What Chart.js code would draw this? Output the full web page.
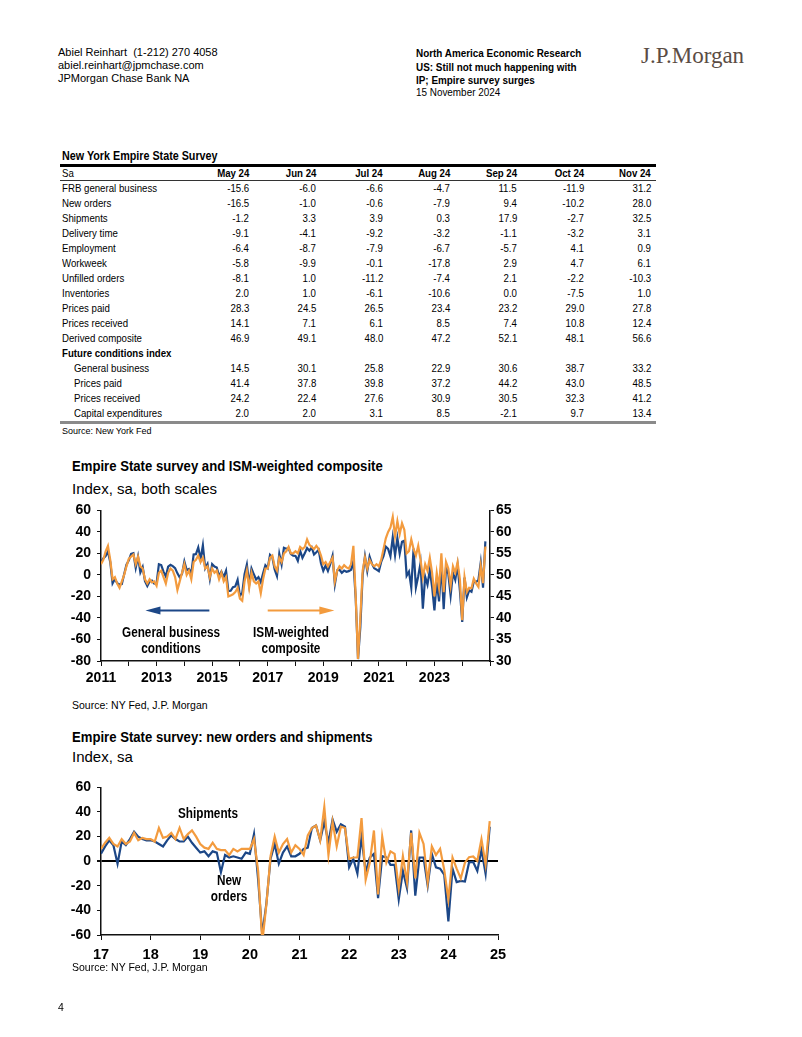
<!DOCTYPE html>
<html><head><meta charset="utf-8">
<script src="https://cdn.jsdelivr.net/npm/chart.js@4.4.1/dist/chart.umd.min.js"></script>
<style>
html,body{margin:0;padding:0;background:#fff;}
body{width:802px;height:1037px;position:relative;overflow:hidden;font-family:"Liberation Sans",Arial,sans-serif;color:#000;}
.abs{position:absolute;white-space:nowrap;}
.sx{display:inline-block;transform-origin:left center;}
.sr{display:inline-block;transform-origin:right center;}
#tbl{position:absolute;left:60px;top:164px;width:596px;border-collapse:collapse;font-size:11.5px;table-layout:fixed;}
#tbl td{padding:0;height:15px;line-height:15px;text-align:right;padding-right:5px;white-space:nowrap;overflow:visible;}
#tbl td span{transform:scaleX(0.84);}
#tbl td.lbl{text-align:left;padding-left:2px;padding-right:0;}
#tbl td.ind{padding-left:14px;}
#tbl tr.hdr td{height:13px;line-height:13px;border-top:3px solid #000;border-bottom:1px solid #333;}
#tbl tr.hdr td.m{font-weight:bold;}
#tbl tr.last td{border-bottom:3px solid #8a8a8a;}
canvas{position:absolute;}
.ann{position:absolute;font-weight:bold;font-size:14px;line-height:16px;text-align:center;white-space:nowrap;transform:translateX(-50%) scaleX(0.84);}
</style>
</head>
<body>
<div class="abs" style="left:58px;top:46px;font-size:11px;line-height:13px;">Abiel Reinhart&nbsp; (1-212) 270 4058<br>abiel.reinhart@jpmchase.com<br>JPMorgan Chase Bank NA</div>
<div class="abs" style="left:416px;top:47px;font-size:11px;line-height:13px;font-weight:bold;"><span class="sx" style="transform:scaleX(0.9)">North America Economic Research</span></div>
<div class="abs" style="left:416px;top:61px;font-size:11px;line-height:12.5px;font-weight:bold;"><span class="sx" style="transform:scaleX(0.9)">US: Still not much happening with<br>IP; Empire survey surges</span></div>
<div class="abs" style="left:416px;top:86px;font-size:11px;line-height:12.5px;"><span class="sx" style="transform:scaleX(0.9)">15 November 2024</span></div>
<div class="abs" style="left:641px;top:42px;font-size:23px;line-height:28px;font-family:'Liberation Serif','DejaVu Serif',serif;color:#5b4c44;">J.P.Morgan</div>

<div class="abs" style="left:62px;top:149px;font-size:12.5px;line-height:14px;font-weight:bold;"><span class="sx" style="transform:scaleX(0.86)">New York Empire State Survey</span></div>
<table id="tbl"></table>
<div class="abs" style="left:62px;top:426px;font-size:9px;line-height:10px;">Source: New York Fed</div>

<div class="abs" style="left:72px;top:457px;font-size:15px;line-height:18px;font-weight:bold;"><span class="sx" style="transform:scaleX(0.875)">Empire State survey and ISM-weighted composite</span></div>
<div class="abs" style="left:72px;top:480px;font-size:15px;line-height:18px;">Index, sa, both scales</div>
<canvas id="c1" width="500" height="200" style="left:40px;top:496px;"></canvas>
<div class="ann" style="left:171px;top:624px;">General business<br>conditions</div>
<div class="ann" style="left:291px;top:624px;">ISM-weighted<br>composite</div>
<div class="abs" style="left:72px;top:699px;font-size:10.5px;line-height:13px;">Source: NY Fed, J.P. Morgan</div>

<div class="abs" style="left:72px;top:728px;font-size:15px;line-height:18px;font-weight:bold;"><span class="sx" style="transform:scaleX(0.875)">Empire State survey: new orders and shipments</span></div>
<div class="abs" style="left:72px;top:748px;font-size:15px;line-height:18px;">Index, sa</div>
<canvas id="c2" width="480" height="195" style="left:40px;top:773px;"></canvas>
<div class="ann" style="left:208px;top:805px;">Shipments</div>
<div class="ann" style="left:229px;top:872px;">New<br>orders</div>
<div class="abs" style="left:72px;top:961px;font-size:10.5px;line-height:13px;">Source: NY Fed, J.P. Morgan</div>
<div class="abs" style="left:58px;top:1001px;font-size:10.5px;line-height:13px;">4</div>

<script>
// ---------- Table data ----------
const tableMonths = ['May 24','Jun 24','Jul 24','Aug 24','Sep 24','Oct 24','Nov 24'];
const rowFRB = [-15.6,-6.0,-6.6,-4.7,11.5,-11.9,31.2];
const rowNewOrders = [-16.5,-1.0,-0.6,-7.9,9.4,-10.2,28.0];
const rowShipments = [-1.2,3.3,3.9,0.3,17.9,-2.7,32.5];
const rowDelivery = [-9.1,-4.1,-9.2,-3.2,-1.1,-3.2,3.1];
const rowEmployment = [-6.4,-8.7,-7.9,-6.7,-5.7,4.1,0.9];
const rowWorkweek = [-5.8,-9.9,-0.1,-17.8,2.9,4.7,6.1];
const rowUnfilled = [-8.1,1.0,-11.2,-7.4,2.1,-2.2,-10.3];
const rowInventories = [2.0,1.0,-6.1,-10.6,0.0,-7.5,1.0];
const rowPricesPaid = [28.3,24.5,26.5,23.4,23.2,29.0,27.8];
const rowPricesRecv = [14.1,7.1,6.1,8.5,7.4,10.8,12.4];
const rowDerived = [46.9,49.1,48.0,47.2,52.1,48.1,56.6];
const rowFutGeneral = [14.5,30.1,25.8,22.9,30.6,38.7,33.2];
const rowFutPaid = [41.4,37.8,39.8,37.2,44.2,43.0,48.5];
const rowFutRecv = [24.2,22.4,27.6,30.9,30.5,32.3,41.2];
const rowFutCapex = [2.0,2.0,3.1,8.5,-2.1,9.7,13.4];

// ---------- Chart 1: monthly, Jan 2011 - Nov 2024 ----------
const chart1StartYear = 2011;
const generalBusiness = [
 11.9,15.4,17.5,21.7,11.9,-7.8,-3.8,-7.7,-8.8,-8.5,0.6,9.5,
 13.5,19.5,20.2,6.6,17.1,2.3,7.4,-5.9,-10.4,-6.2,-5.2,-8.1,
 -7.8,10.0,9.2,3.1,-1.4,7.8,9.5,8.2,6.3,1.5,-2.2,1.0,
 12.5,4.5,5.6,1.3,19.0,19.3,25.6,14.7,27.5,6.2,10.2,-3.6,
 10.0,7.8,6.9,-1.2,3.1,-2.0,3.9,-14.9,-14.7,-11.4,-10.7,-4.6,
 -19.4,-16.6,0.6,9.6,-9.0,6.0,0.6,-4.2,-2.0,-6.8,1.5,9.0,
 6.5,18.7,16.4,5.2,-1.0,19.8,9.8,25.2,24.4,25.0,19.4,18.0,
 17.7,13.1,22.5,15.8,20.1,25.0,22.6,25.6,19.0,21.1,23.3,10.9,
 3.9,8.8,3.7,10.1,17.8,-8.6,4.3,4.8,2.0,4.0,2.9,3.5,
 4.8,12.9,-21.5,-78.2,-48.5,-0.2,17.2,3.7,17.0,10.5,6.3,4.9,
 3.5,12.1,17.4,26.3,24.3,17.4,35.0,18.3,34.3,19.8,30.9,31.9,
 -0.7,3.1,-11.8,24.6,-11.6,-1.2,11.1,-31.3,-1.5,-9.1,4.5,-11.2,
 -32.9,-5.8,-24.6,10.8,-31.8,6.6,1.1,-19.0,1.9,-4.6,9.1,-14.5,
 -43.7,-2.4,-20.9,-14.3,-15.6,-6.0,-6.6,-4.7,11.5,-11.9,31.2
];
const ismComposite = [
 52.5,53.5,55.5,56.75,53.5,49,49.5,48,47,48.5,50,52,
 53.75,54.25,54.75,52.5,54.25,52,51.5,49,48,49,48.25,48.5,
 47.5,50.5,51,49.5,48,50.5,51.5,51,49.5,46.5,48.5,50.5,
 52.5,50,51,49,53,53.5,54.5,53,54,51.5,52,49.5,
 51.5,50.5,51,49,50.5,48.5,49.5,45,45.25,45.5,46,47,
 44.5,44,48.5,51,47,50.5,48.5,48,48.5,45.75,49,51.5,
 51.5,54,54.5,52,51,54,53,55,55.5,56.5,55,55,
 55.5,55,56.5,56,56.5,58.25,57,56.5,56,56.75,56,54.5,
 52.5,53,52,53,54,48.5,51,52,51.5,52.25,51.75,51.5,
 52.5,56.75,45,30.5,40,51,54,51.5,53.5,52.5,52,52.5,
 52,53.5,56,58.5,60,61,63.5,59,62.5,59.5,62,60.5,
 55,55.5,58.25,56,54.5,56.75,53.5,49.5,52.5,51,54,50.5,
 45,50.5,47,55,46,53,51.5,47.5,52,50.5,53,49,
 39.5,49.5,46,47,46.9,49.1,48.0,47.2,52.1,48.1,56.6
];
const chart1Years = [2011,2012,2013,2014,2015,2016,2017,2018,2019,2020,2021,2022,2023,2024,2025];
const chart1YearLabels = ['2011','','2013','','2015','','2017','','2019','','2021','','2023','',''];

// ---------- Chart 2: monthly, Jan 2017 - Nov 2024 ----------
const chart2StartYear = 2017;
const newOrders = [
 6,12,17,13,-2,16,13,18,24,20,18,17,
 17,16,14,12,17,21,18,16,16,20,15,11,
 7,8,4,8,7,-9,5,3,4,3,2,7,
 6,22,-15,-60,-34,2,14,-2,7,12,4,4,
 6,10,11,27,29,17,32,15,34,24,30,28,
 -5,2,-10,20,-9,3,6,-30,4,3,-3,-3,
 -31,-8,-22,25,-28,3,3,-20,6,-5,-6,-11,
 -49,-6,-17,-16,-16.5,-1.0,-0.6,-7.9,9.4,-10.2,28.0
];
const shipments = [
 10,15,19,14,12,18,14,16,23,17,19,18,
 18,16,27,19,20,23,18,27,18,22,25,20,
 14,11,10,15,10,9,9,5,10,8,10,10,
 10,18,-8,-66,-35,4,20,7,14,18,7,13,
 10,5,21,27,29,17,44,5,32,12,28,27,
 2,3,3,35,-15,-1,25,-27,20,-1,8,6,
 -22,4,-17,23,-14,23,14,-17,12,5,10,-7,
 -31,3,-6,-14,-1.2,3.3,3.9,0.3,17.9,-2.7,32.5
];
const chart2Years = [2017,2018,2019,2020,2021,2022,2023,2024,2025];
const chart2YearLabels = ['17','18','19','20','21','22','23','24','25'];

// ---------- Build table ----------
const tableBody = [
 ['FRB general business', rowFRB], ['New orders', rowNewOrders], ['Shipments', rowShipments],
 ['Delivery time', rowDelivery], ['Employment', rowEmployment], ['Workweek', rowWorkweek],
 ['Unfilled orders', rowUnfilled], ['Inventories', rowInventories], ['Prices paid', rowPricesPaid],
 ['Prices received', rowPricesRecv], ['Derived composite', rowDerived],
 ['Future conditions index', null],
 ['General business', rowFutGeneral, true], ['Prices paid', rowFutPaid, true],
 ['Prices received', rowFutRecv, true], ['Capital expenditures', rowFutCapex, true]
];
(function(){
  const t = document.getElementById('tbl');
  const L = s => '<span class="sx">'+s+'</span>';
  const R = s => '<span class="sr">'+s+'</span>';
  let html = '<colgroup><col style="width:127px">' + tableMonths.map(()=>'<col style="width:67px">').join('') + '</colgroup>';
  html += '<tr class="hdr"><td class="lbl">'+L('Sa')+'</td>' + tableMonths.map(m=>'<td class="m">'+R(m)+'</td>').join('') + '</tr>';
  tableBody.forEach((r,i)=>{
    const last = i===tableBody.length-1 ? ' class="last"' : '';
    if(!r[1]){
      html += '<tr'+last+'><td class="lbl" style="font-weight:bold" colspan="8">'+L(r[0])+'</td></tr>';
    } else {
      html += '<tr'+last+'><td class="lbl'+(r[2]?' ind':'')+'">'+L(r[0])+'</td>' + r[1].map(v=>'<td>'+R(v.toFixed(1))+'</td>').join('') + '</tr>';
    }
  });
  t.innerHTML = html;
})();

// ---------- Charts ----------
const BLUE = '#1c4787';
const ORANGE = '#f39b3e';
Chart.defaults.font.family = '"Liberation Sans",Arial,sans-serif';
Chart.defaults.color = '#000';

function monthly(vals, startYear){ return vals.map((v,i)=>({x:startYear + i/12, y:v})); }

const arrowSpecs = [
  {from:2014.9, to:2012.6, level:-33, color:BLUE},
  {from:2017.0, to:2019.4, level:-33, color:ORANGE}
];
const arrowPlugin = {
  id:'arrows',
  afterDatasetsDraw(chart){
    const ctx = chart.ctx, xs = chart.scales.x, ys = chart.scales.yL;
    arrowSpecs.forEach(a=>{
      const x1 = xs.getPixelForValue(a.from), x2 = xs.getPixelForValue(a.to), y = ys.getPixelForValue(a.level);
      const dir = Math.sign(x2-x1), head = 15;
      ctx.save();
      ctx.strokeStyle = a.color; ctx.fillStyle = a.color; ctx.lineWidth = 2;
      ctx.beginPath(); ctx.moveTo(x1,y); ctx.lineTo(x2 - dir*head*0.8, y); ctx.stroke();
      ctx.beginPath(); ctx.moveTo(x2,y); ctx.lineTo(x2-dir*head, y-4); ctx.lineTo(x2-dir*head, y+4); ctx.closePath(); ctx.fill();
      ctx.restore();
    });
  }
};

const tickFont = {weight:'bold', size:14};
const axisBorder = {display:true, color:'#111', width:1.5};

new Chart(document.getElementById('c1'), {
  type:'line',
  data:{datasets:[
    {label:'ISM-weighted composite', data:monthly(ismComposite, chart1StartYear), yAxisID:'yR', borderColor:ORANGE, borderWidth:2.2, pointRadius:0, tension:0, order:0},
    {label:'General business conditions', data:monthly(generalBusiness, chart1StartYear), yAxisID:'yL', borderColor:BLUE, borderWidth:2.2, pointRadius:0, tension:0, order:1}
  ]},
  options:{
    responsive:false, animation:false, events:[],
    layout:{padding:{top:10, left:0, right:0, bottom:0}},
    plugins:{legend:{display:false}, tooltip:{enabled:false}},
    scales:{
      x:{type:'linear', min:chart1Years[0], max:chart1Years[chart1Years.length-1],
         afterBuildTicks:s=>{ s.ticks = chart1Years.map(v=>({value:v})); },
         ticks:{autoSkip:false, maxRotation:0, font:tickFont, padding:4,
                callback:(v,i)=>chart1YearLabels[i]},
         grid:{drawOnChartArea:false, tickLength:5, color:'#111'}, border:axisBorder,
         afterFit:s=>{ s.height = 35; }},
      yL:{position:'left', min:-80, max:60,
         ticks:{stepSize:20, font:tickFont, padding:6},
         grid:{drawOnChartArea:false, tickLength:4, color:'#111'}, border:axisBorder,
         afterFit:s=>{ s.width = 61; }},
      yR:{position:'right', min:30, max:65,
         ticks:{stepSize:5, font:tickFont, padding:2},
         grid:{drawOnChartArea:false, tickLength:4, color:'#111'}, border:axisBorder,
         afterFit:s=>{ s.width = 50; }}
    }
  },
  plugins:[arrowPlugin]
});

new Chart(document.getElementById('c2'), {
  type:'line',
  data:{datasets:[
    {label:'Shipments', data:monthly(shipments, chart2StartYear), borderColor:ORANGE, borderWidth:2.2, pointRadius:0, tension:0, order:0},
    {label:'New orders', data:monthly(newOrders, chart2StartYear), borderColor:BLUE, borderWidth:2.2, pointRadius:0, tension:0, order:1}
  ]},
  options:{
    responsive:false, animation:false, events:[],
    layout:{padding:{top:10, left:0, right:22, bottom:0}},
    plugins:{legend:{display:false}, tooltip:{enabled:false}},
    scales:{
      x:{type:'linear', min:chart2Years[0], max:chart2Years[chart2Years.length-1],
         afterBuildTicks:s=>{ s.ticks = chart2Years.map(v=>({value:v})); },
         ticks:{autoSkip:false, maxRotation:0, font:{weight:'bold', size:14.5}, padding:6,
                callback:(v,i)=>chart2YearLabels[i]},
         grid:{drawOnChartArea:false, tickLength:5, color:'#111'}, border:axisBorder,
         afterFit:s=>{ s.height = 33; }},
      y:{position:'left', min:-60, max:60,
         ticks:{stepSize:20, font:tickFont, padding:6},
         grid:{drawOnChartArea:true, tickLength:4, tickColor:'#111',
               color:c=> (c.tick && c.tick.value===0) ? '#000' : 'rgba(0,0,0,0)',
               lineWidth:c=> (c.tick && c.tick.value===0) ? 2 : 1},
         border:axisBorder,
         afterFit:s=>{ s.width = 61; }}
    }
  }
});
</script>
</body></html>
